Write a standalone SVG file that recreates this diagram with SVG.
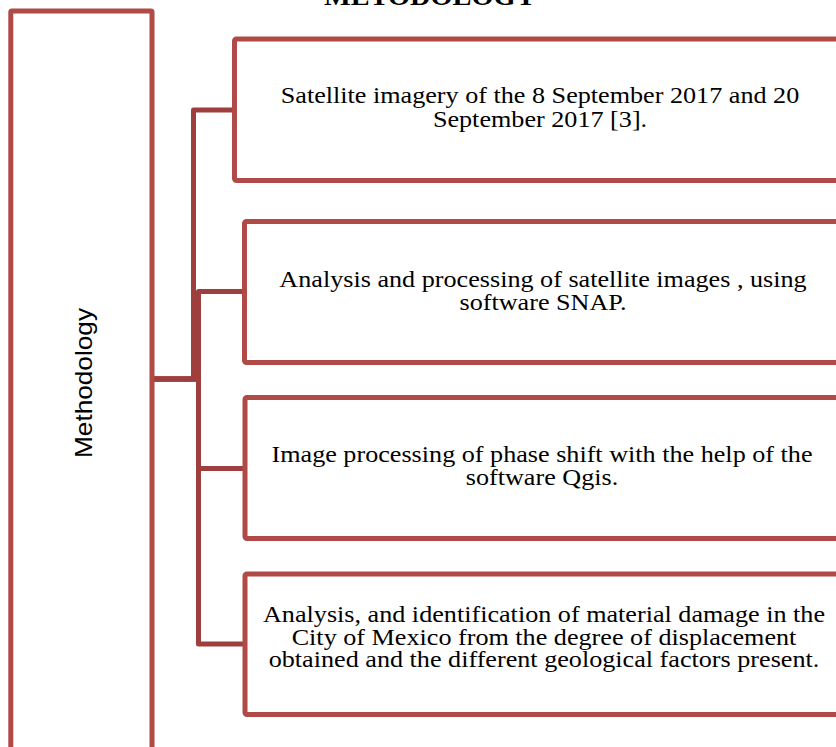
<svg xmlns="http://www.w3.org/2000/svg" width="836" height="747" viewBox="0 0 836 747">
<style>
.box{fill:#ffffff;stroke:#b04a47;stroke-width:5}
.con{fill:none;stroke:#9e3f3d;stroke-width:5;stroke-linejoin:round}
.t{font-family:"Liberation Serif","Times New Roman",serif;font-size:24px;fill:#000;text-anchor:middle}
.side{font-family:"Liberation Sans",Arial,sans-serif;font-size:24px;fill:#000;text-anchor:middle}
.title{font-family:"Liberation Serif","Times New Roman",serif;font-size:26px;font-weight:bold;fill:#000;text-anchor:middle}
</style>
<rect width="836" height="747" fill="#ffffff"/>
<text class="title" transform="translate(430 5) scale(1.09 1)" x="0" y="0">METODOLOGY</text>
<g id="connectors">
<path class="con" d="M152,379 H193.5 V110 H234.5"/>
<path class="con" d="M152,379 H198.5 V291.5 H244.5"/>
<path class="con" d="M152,379 H198.5 V468.5 H245"/>
<path class="con" d="M152,379 H198.5 V644 H245"/>
</g>
<g id="methodology">
<rect class="box" x="10.8" y="11" width="141.2" height="760" rx="1"/>
<text class="side" transform="translate(91.5 383) rotate(-90)" x="0" y="0" textLength="150" lengthAdjust="spacingAndGlyphs">Methodology</text>
</g>
<g id="step1">
<rect class="box" x="234.5" y="39" width="620" height="141.5" rx="2"/>
<text class="t" transform="translate(540 0) scale(1.09 1)"><tspan x="0" y="103.3">Satellite imagery of the 8 September 2017 and 20</tspan><tspan x="0" y="126.7">September 2017 [3].</tspan></text>
</g>
<g id="step2">
<rect class="box" x="244.5" y="221.5" width="620" height="141" rx="2"/>
<text class="t" transform="translate(543 0) scale(1.09 1)"><tspan x="0" y="287">Analysis and processing of satellite images , using</tspan><tspan x="0" y="310">software SNAP.</tspan></text>
</g>
<g id="step3">
<rect class="box" x="245" y="397.5" width="620" height="141" rx="2"/>
<text class="t" transform="translate(542 0) scale(1.09 1)"><tspan x="0" y="462">Image processing of phase shift with the help of the</tspan><tspan x="0" y="485">software Qgis.</tspan></text>
</g>
<g id="step4">
<rect class="box" x="245" y="574" width="620" height="140.5" rx="2"/>
<text class="t" transform="translate(544 0) scale(1.09 1)"><tspan x="0" y="622">Analysis, and identification of material damage in the</tspan><tspan x="0" y="645">City of Mexico from the degree of displacement</tspan><tspan x="0" y="667.5">obtained and the different geological factors present.</tspan></text>
</g>
</svg>
